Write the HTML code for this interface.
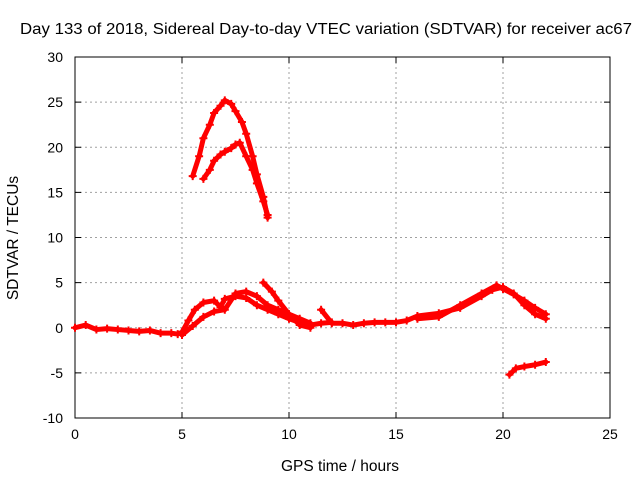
<!DOCTYPE html>
<html><head><meta charset="utf-8"><style>
body{margin:0;background:#fff}
svg{display:block;font-family:"Liberation Sans",sans-serif}
</style></head><body>
<svg id="c" width="640" height="480"></svg>
<script>
const xTicks=[0,5,10,15,20,25];
const yTicks=[-10,-5,0,5,10,15,20,25,30];
const arcHighX=[5.5,5.8,6,6.3,6.5,6.8,7,7.3,7.5,7.8,8,8.3,8.5,8.8,9];
const arcHighY=[16.8,19,21,22.5,23.8,24.6,25.2,24.8,24,22.8,21.5,19,17,14.5,12.2];
const arcLowX=[6,6.3,6.5,6.8,7,7.3,7.5,7.7,8,8.3,8.5,8.8,9];
const arcLowY=[16.5,17.5,18.5,19.2,19.5,19.9,20.3,20.5,19,17.5,16,14,12.5];
const baseAX=[0,0.5,1,1.5,2,2.5,3,3.5,4,4.5,4.8,5,5.3,5.6,6,6.5,6.8,7,7.5,8,8.5,9,9.5,10,10.5,11,11.5,12];
const baseAY=[0,0.3,-0.2,-0.1,-0.2,-0.3,-0.4,-0.3,-0.6,-0.6,-0.7,-0.5,0.8,2,2.8,3,2.3,3.2,3.5,3.3,2.5,2,1.5,1,0.6,0.3,0.5,0.6];
const baseBX=[5,5.5,6,6.5,7,7.5,8,8.5,9,9.5,10,10.5,11];
const baseBY=[-0.8,0.2,1.2,1.8,2,3.8,4,3.5,2.5,2,1.5,1,0.5];
const baseCX=[8.8,9.2,9.5,10,10.5,11];
const baseCY=[5,4,3,1.5,0.3,0];
const midAX=[11.5,12,12.5,13,13.5,14,14.5,15,15.5,16,17,18,19,19.5,20,20.5,21,21.5,22];
const midAY=[2,0.5,0.5,0.3,0.5,0.6,0.6,0.6,0.8,1.3,1.6,2.2,3.5,4.2,4.5,3.8,2.5,1.5,1];
const midBX=[16,17,18,19,19.7,20,20.5,21,21.5,22];
const midBY=[1,1.2,2.5,3.8,4.7,4.3,3.7,3,2.2,1.5];
const negX=[20.3,20.6,21,21.5,22];
const negY=[-5.2,-4.5,-4.3,-4.1,-3.8];
const series=[[arcHighX,arcHighY],[arcLowX,arcLowY],[baseAX,baseAY],[baseBX,baseBY],[baseCX,baseCY],[midAX,midAY],[midBX,midBY],[negX,negY]];

const L=75,R=610,T=57,B=418;
const sx=v=>L+(v-0)/25*(R-L);
const sy=v=>B-(v+10)/40*(B-T);
const svg=document.getElementById('c');
const NS='http://www.w3.org/2000/svg';
function mk(tag,attrs,parent){const e=document.createElementNS(NS,tag);for(const k in attrs)e.setAttribute(k,attrs[k]);(parent||svg).appendChild(e);return e;}
xTicks.forEach(t=>{
  if(t>0&&t<25){const g=mk('line',{x1:sx(t),x2:sx(t),y1:T,y2:B,stroke:'#a0a0a0','stroke-dasharray':'2,3'});
  
  }
  const tx=mk('text',{x:sx(t),y:B+21,'text-anchor':'middle','font-size':14});tx.textContent=t;
  
  
  mk('line',{x1:sx(t),x2:sx(t),y1:B,y2:B-6,stroke:'#000'});
  mk('line',{x1:sx(t),x2:sx(t),y1:T,y2:T+6,stroke:'#000'});
});
yTicks.forEach(t=>{
  if(t>-10&&t<30){const g=mk('line',{x1:L,x2:R,y1:sy(t),y2:sy(t),stroke:'#a0a0a0','stroke-dasharray':'2,3'});
  
  }
  const tx=mk('text',{x:L-12,y:sy(t)+5,'text-anchor':'end','font-size':14});tx.textContent=t;
  
  
  mk('line',{x1:L,x2:L+6,y1:sy(t),y2:sy(t),stroke:'#000'});
  mk('line',{x1:R,x2:R-6,y1:sy(t),y2:sy(t),stroke:'#000'});
});
const fr=mk('rect',{x:L,y:T,width:R-L,height:B-T,fill:'none',stroke:'#000'});


series.forEach(([xs,ys])=>{
  const pts=xs.map((x,i)=>sx(x)+','+sy(ys[i])).join(' ');
  const p=mk('polyline',{points:pts,fill:'none',stroke:'#f00','stroke-width':5,'stroke-linejoin':'round','stroke-linecap':'round'});
  
  
  xs.forEach((x,i)=>{
    const X=sx(x),Y=sy(ys[i]);
    mk('path',{d:`M${X-4},${Y}H${X+4}M${X},${Y-4}V${Y+4}`,stroke:'#f00','stroke-width':2});
  });
});
const t1=mk('text',{x:20,y:34,'font-size':15.5,textLength:612,lengthAdjust:'spacingAndGlyphs'});t1.textContent='Day 133 of 2018, Sidereal Day-to-day VTEC variation (SDTVAR) for receiver ac67';


const t2=mk('text',{x:340,y:471,'text-anchor':'middle','font-size':15.5});t2.textContent='GPS time / hours';


const t3=mk('text',{x:18,y:238,'text-anchor':'middle','font-size':15.5,transform:'rotate(-90 18 238)'});t3.textContent='SDTVAR / TECUs';


</script>
</body></html>
